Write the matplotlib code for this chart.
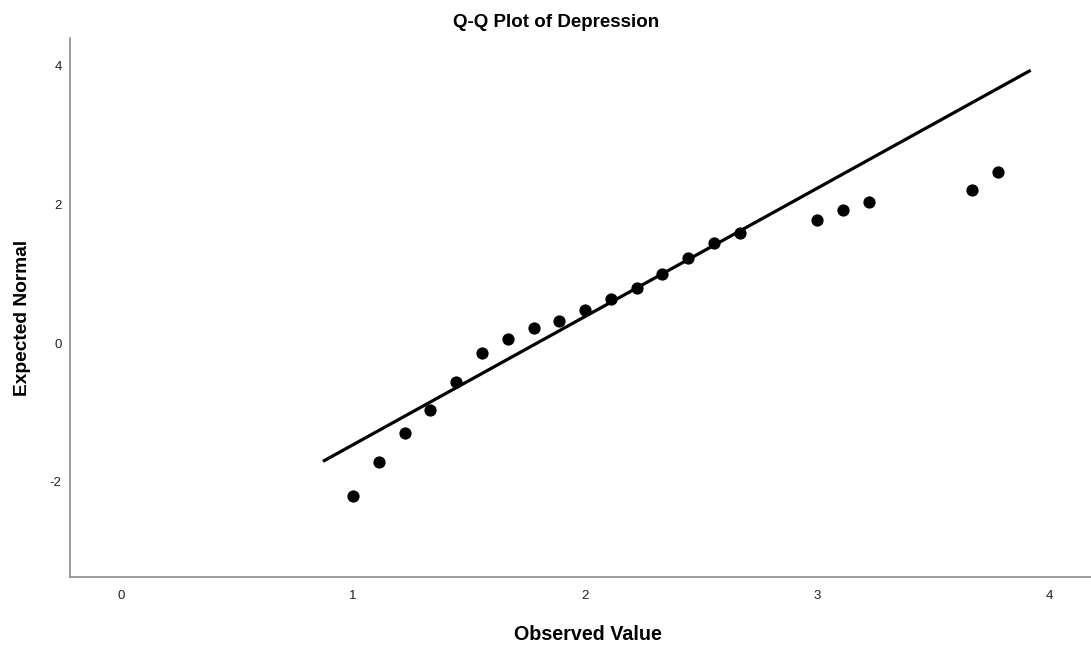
import numpy as np
import matplotlib
matplotlib.use("Agg")
import matplotlib.pyplot as plt

plt.rcParams['font.family'] = ['Liberation Sans', 'DejaVu Sans']
plt.rcParams['axes.unicode_minus'] = False

# Beobachtete Werte (Depression) und erwartete Normalquantile
observed = [1.0, 1.111, 1.222, 1.333, 1.444, 1.556, 1.667, 1.778, 1.889, 2.0,
            2.111, 2.222, 2.333, 2.444, 2.556, 2.667, 3.0, 3.111, 3.222, 3.667, 3.778]
expected = [-2.20, -1.71, -1.29, -0.97, -0.56, -0.15, 0.06, 0.21, 0.32, 0.47,
            0.63, 0.79, 0.99, 1.22, 1.44, 1.58, 1.77, 1.91, 2.03, 2.20, 2.46]

# Referenzlinie der Normalverteilung
mean_dep = 1.793
sd_dep = 0.542
line_x = [0.87, 3.92]

x_ticks = [0, 1, 2, 3, 4]
y_ticks = [-2, 0, 2, 4]

fig = plt.figure(figsize=(10.91, 6.45), dpi=100)
ax = fig.add_axes([0.0642, 0.1062, 0.9358, 0.835])

lx = np.array(line_x)
ax.plot(lx, (lx - mean_dep) / sd_dep, color='black', linewidth=2.3,
        solid_capstyle='butt', zorder=2)
ax.plot(observed, expected, 'o', color='black', markersize=7.8, zorder=3)

ax.set_xlim(-0.22, 4.18)
ax.set_ylim(-3.36, 4.39)
ax.set_xticks(x_ticks)
ax.set_yticks(y_ticks)
ax.tick_params(length=0, labelsize=9.5, colors='#222222')
ax.tick_params(axis='x', pad=10)
ax.tick_params(axis='y', pad=6)

for side in ['top', 'right']:
    ax.spines[side].set_visible(False)
for side in ['left', 'bottom']:
    ax.spines[side].set_color('#8c8c8c')
    ax.spines[side].set_linewidth(1.2)

fig.text(0.5385, 0.008, 'Observed Value', ha='center', va='baseline',
         fontsize=14.2, fontweight='bold')
fig.text(0.0206, 0.507, 'Expected Normal', ha='center', va='center',
         rotation=90, fontsize=13.8, fontweight='bold')
fig.text(0.51, 0.958, 'Q-Q Plot of Depression', ha='center', va='baseline',
         fontsize=13.5, fontweight='bold')

fig.savefig('out.png', dpi=100, facecolor='white')
